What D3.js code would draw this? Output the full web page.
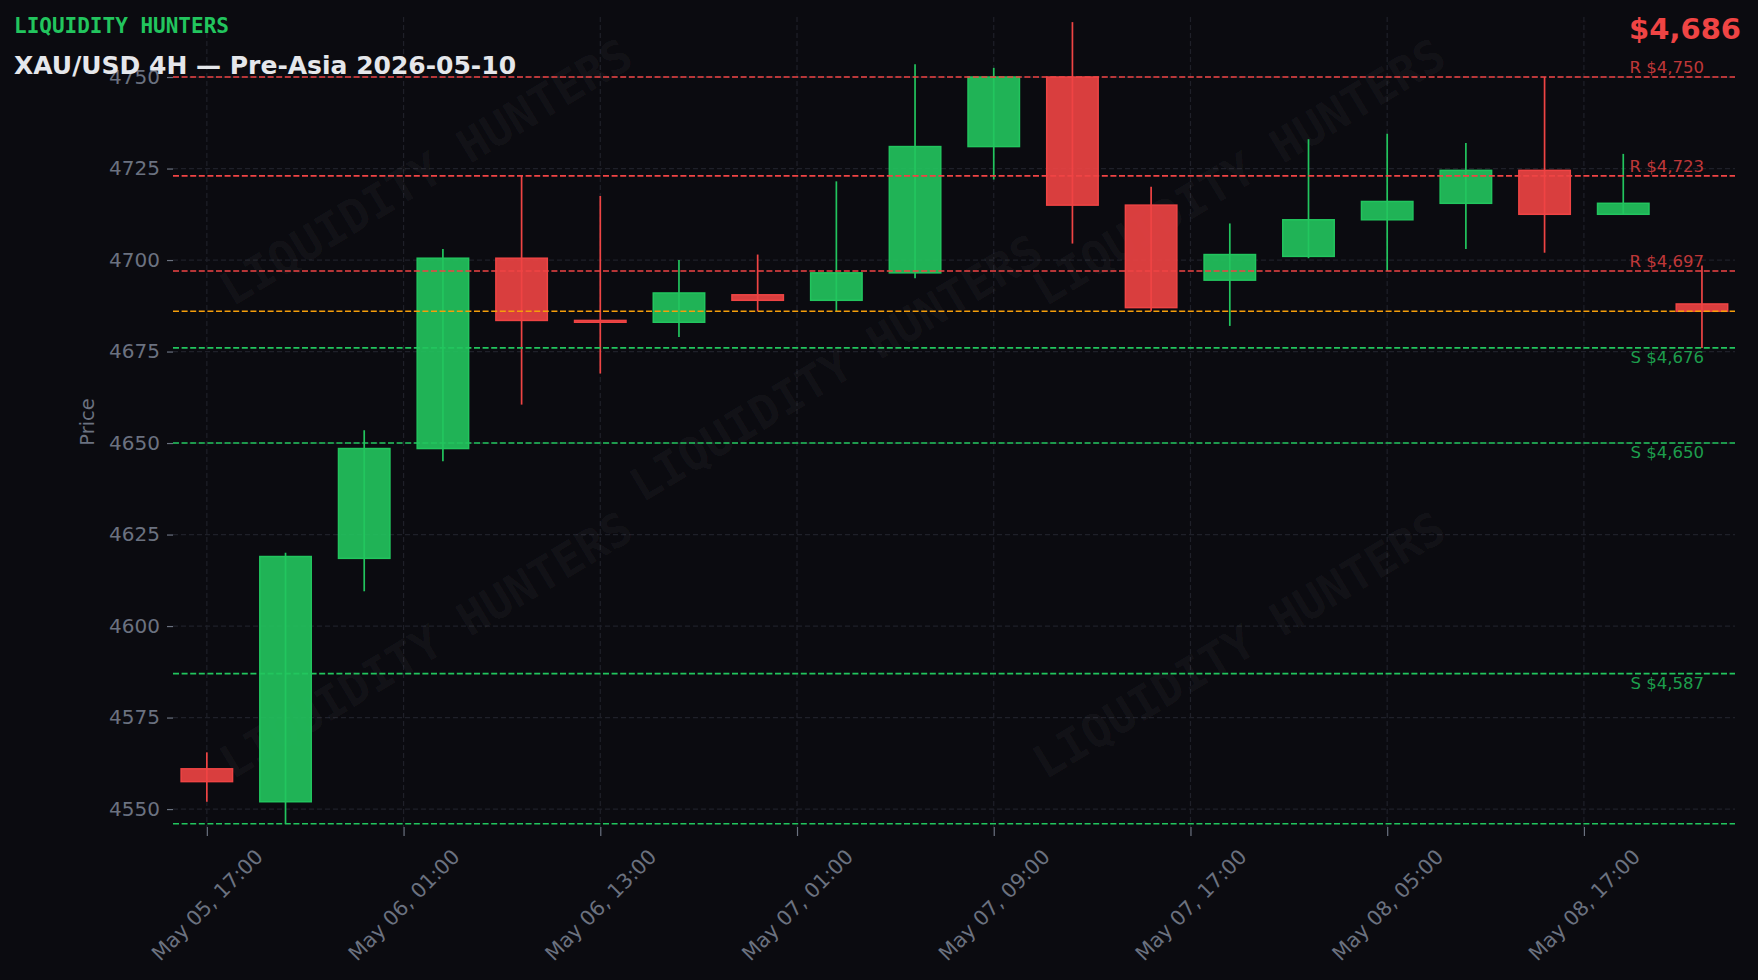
<!DOCTYPE html>
<html>
<head>
<meta charset="utf-8">
<script src="https://cdn.jsdelivr.net/npm/d3@7"></script>
<style>
  html, body { margin: 0; padding: 0; background: #0b0b10; }
  svg { display: block; }
</style>
</head>
<body>
<svg id="chart" width="1758" height="980"></svg>
<script>
// ---- data ----
const categories = [
  "May 05, 17:00", "May 05, 21:00", "May 06, 01:00", "May 06, 05:00", "May 06, 09:00",
  "May 06, 13:00", "May 06, 17:00", "May 06, 21:00", "May 07, 01:00", "May 07, 05:00",
  "May 07, 09:00", "May 07, 13:00", "May 07, 17:00", "May 07, 21:00", "May 08, 01:00",
  "May 08, 05:00", "May 08, 09:00", "May 08, 13:00", "May 08, 17:00", "May 08, 21:00"
];
const opens  = [4561, 4552, 4618.5, 4648.5, 4700.5, 4683.5, 4683, 4690.5, 4689, 4696.5, 4731, 4750, 4715, 4694.5, 4701, 4711, 4715.5, 4724.5, 4712.5, 4688];
const highs  = [4565.5, 4620, 4653.5, 4703, 4723, 4717.5, 4700, 4701.5, 4721.5, 4753.5, 4752.5, 4765, 4720, 4710, 4733, 4734.5, 4732, 4750, 4729, 4698.5];
const lows   = [4552, 4546, 4609.5, 4645, 4660.5, 4669, 4679, 4686, 4686, 4695, 4722, 4704.5, 4686, 4682, 4700.5, 4697, 4703, 4702, 4712.5, 4676];
const closes = [4557.5, 4619, 4648.5, 4700.5, 4683.5, 4683, 4691, 4689, 4696.5, 4731, 4750, 4715, 4687, 4701.5, 4711, 4716, 4724.5, 4712.5, 4715.5, 4686];

const yTicks = [4550, 4575, 4600, 4625, 4650, 4675, 4700, 4725, 4750];
const xTickPositions = [0, 2.5, 5, 7.5, 10, 12.5, 15, 17.5];
const xTickLabels = ["May 05, 17:00", "May 06, 01:00", "May 06, 13:00", "May 07, 01:00",
                     "May 07, 09:00", "May 07, 17:00", "May 08, 05:00", "May 08, 17:00"];

const resistanceLevels = [4750, 4723, 4697];
const supportLevels = [4676, 4650, 4587];
const extraSupportLevels = [4546];
const currentPrice = 4686;

const brandText = "LIQUIDITY HUNTERS";
const titleText = "XAU/USD 4H — Pre-Asia 2026-05-10";

// ---- layout ----
const W = 1758, H = 980;
const plot = { left: 173, right: 1735, top: 17, bottom: 827 };
const C = {
  bg: "#0b0b10", grid: "#1f2029", tick: "#6b7280",
  up: "#22c55e", down: "#ef4444", cur: "#f59e0b", title: "#e5e7eb"
};

const svg = d3.select("#chart");
svg.append("rect").attr("width", W).attr("height", H).attr("fill", C.bg);

const x = d3.scaleLinear().domain([-0.43, 19.42]).range([plot.left, plot.right]);
const y = d3.scaleLinear().domain([4545.1, 4766.4]).range([plot.bottom, plot.top]);

// clip
svg.append("clipPath").attr("id", "clip").append("rect")
  .attr("x", plot.left).attr("y", plot.top)
  .attr("width", plot.right - plot.left).attr("height", plot.bottom - plot.top);

// grid
const grid = svg.append("g");
grid.selectAll("line.h").data(yTicks).join("line")
  .attr("x1", plot.left).attr("x2", plot.right)
  .attr("y1", d => y(d)).attr("y2", d => y(d))
  .attr("stroke", C.grid).attr("stroke-width", 1.2).attr("stroke-dasharray", "5,3");
grid.selectAll("line.v").data(xTickPositions).join("line")
  .attr("y1", plot.top).attr("y2", plot.bottom)
  .attr("x1", d => x(d)).attr("x2", d => x(d))
  .attr("stroke", C.grid).attr("stroke-width", 1.2).attr("stroke-dasharray", "5,3");

// watermarks
const wmPositions = [[426, 172], [1239, 172], [836, 368], [426, 645], [1239, 645]];
const wm = svg.append("g").attr("clip-path", "url(#clip)");
wm.selectAll("text").data(wmPositions).join("text")
  .attr("transform", d => `translate(${d[0]},${d[1]}) rotate(-31)`)
  .attr("text-anchor", "middle").attr("dominant-baseline", "central")
  .attr("font-family", "DejaVu Sans Mono").attr("font-weight", "bold")
  .attr("font-size", 46).attr("fill", "#ffffff").attr("fill-opacity", 0.045)
  .text(brandText);

// y axis
const yAxis = d3.axisLeft(y).tickValues(yTicks).tickSize(6).tickPadding(7).tickFormat(d3.format("d"));
const gy = svg.append("g").attr("transform", `translate(${plot.left},0)`).call(yAxis);
gy.select(".domain").remove();
gy.selectAll(".tick line").attr("stroke", C.tick).attr("stroke-width", 1.2);
gy.selectAll(".tick text").attr("fill", C.tick).attr("font-family", "DejaVu Sans").attr("font-size", 20);

// x axis
const xAxis = d3.axisBottom(x).tickValues(xTickPositions).tickSize(9).tickFormat((d, i) => xTickLabels[i]);
const gx = svg.append("g").attr("transform", `translate(0,${plot.bottom})`).call(xAxis);
gx.select(".domain").remove();
gx.selectAll(".tick line").attr("stroke", C.tick).attr("stroke-width", 1.2);
gx.selectAll(".tick text")
  .attr("fill", C.tick).attr("font-family", "DejaVu Sans").attr("font-size", 20.5)
  .attr("text-anchor", "middle").attr("dominant-baseline", "central")
  .attr("y", 0).attr("dy", 0)
  .attr("transform", "translate(0,78) rotate(-45)");

// y label
svg.append("text")
  .attr("transform", `translate(87,${(plot.top + plot.bottom) / 2}) rotate(-90)`)
  .attr("text-anchor", "middle").attr("dominant-baseline", "central")
  .attr("font-family", "DejaVu Sans").attr("font-size", 19.5).attr("fill", C.tick)
  .text("Price");

// candles
const idx = d3.range(categories.length);
const cg = svg.append("g").attr("clip-path", "url(#clip)");
cg.selectAll("line.wick").data(idx).join("line")
  .attr("x1", i => x(i)).attr("x2", i => x(i))
  .attr("y1", i => y(highs[i])).attr("y2", i => y(lows[i]))
  .attr("stroke", i => closes[i] >= opens[i] ? C.up : C.down)
  .attr("stroke-width", 1.7);
const hw = 0.327;
cg.selectAll("rect.body").data(idx).join("rect")
  .attr("x", i => x(i - hw)).attr("width", i => x(i + hw) - x(i - hw))
  .attr("y", i => y(Math.max(opens[i], closes[i])))
  .attr("height", i => Math.max(1, y(Math.min(opens[i], closes[i])) - y(Math.max(opens[i], closes[i]))))
  .attr("fill", i => closes[i] >= opens[i] ? C.up : C.down)
  .attr("fill-opacity", 0.9)
  .attr("stroke", i => closes[i] >= opens[i] ? C.up : C.down)
  .attr("stroke-width", 1.5);

// level lines
const lv = svg.append("g");
function levelLine(v, color) {
  lv.append("line")
    .attr("x1", plot.left).attr("x2", plot.right)
    .attr("y1", y(v)).attr("y2", y(v))
    .attr("stroke", color).attr("stroke-width", 1.6).attr("stroke-dasharray", "6,2.6");
}
const fmt = d3.format(",");
resistanceLevels.forEach(v => {
  levelLine(v, C.down);
  lv.append("text").attr("x", x(19) + 2).attr("y", y(v) - 4)
    .attr("text-anchor", "end").attr("font-family", "DejaVu Sans").attr("font-size", 16.5)
    .attr("fill", C.down).attr("fill-opacity", 0.8).text("R $" + fmt(v));
});
supportLevels.forEach(v => {
  levelLine(v, C.up);
  lv.append("text").attr("x", x(19) + 2).attr("y", y(v) + 15)
    .attr("text-anchor", "end").attr("font-family", "DejaVu Sans").attr("font-size", 16.5)
    .attr("fill", C.up).attr("fill-opacity", 0.8).text("S $" + fmt(v));
});
extraSupportLevels.forEach(v => levelLine(v, C.up));
levelLine(currentPrice, C.cur);

// titles
svg.append("text").attr("x", 14).attr("y", 33)
  .attr("font-family", "DejaVu Sans Mono").attr("font-weight", "bold").attr("font-size", 21)
  .attr("fill", C.up).text(brandText);
svg.append("text").attr("x", 14).attr("y", 74)
  .attr("font-family", "DejaVu Sans").attr("font-weight", "bold").attr("font-size", 25)
  .attr("fill", C.title).text(titleText);
svg.append("text").attr("x", 1741).attr("y", 39).attr("text-anchor", "end")
  .attr("font-family", "DejaVu Sans").attr("font-weight", "bold").attr("font-size", 29)
  .attr("fill", C.down).text("$" + fmt(currentPrice));
</script>
</body>
</html>
